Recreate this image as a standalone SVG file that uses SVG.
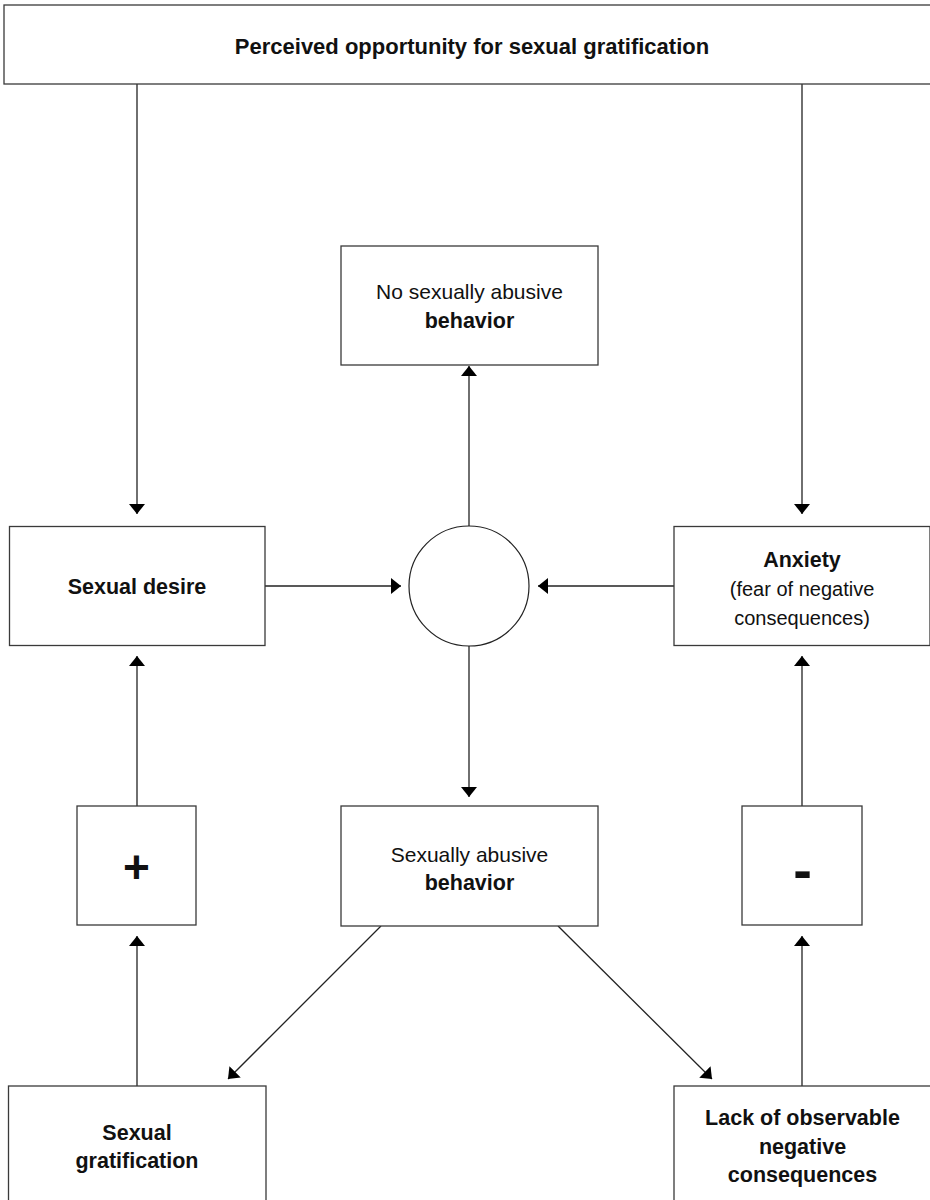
<svg xmlns="http://www.w3.org/2000/svg" width="930" height="1200" viewBox="0 0 930 1200">
<style>
.box{fill:#fff;stroke:#3a3a3a;stroke-width:1.3}
.c{fill:none;stroke:#222;stroke-width:1.3}
.t{font-family:"Liberation Sans",Arial,sans-serif;font-size:20px;fill:#111;text-anchor:middle}
.r{font-size:21px}
.b{font-weight:bold;font-size:21.5px}
.h{font-family:"Liberation Sans",Arial,sans-serif;font-weight:bold;font-size:22px;fill:#111;text-anchor:middle}
</style>
<defs>
<marker id="a" viewBox="0 0 10 16" refX="10" refY="8" markerWidth="10" markerHeight="16" markerUnits="userSpaceOnUse" orient="auto">
<path d="M0,0 L10,8 L0,16 z" fill="#000"/>
</marker>
</defs>
<rect width="930" height="1200" fill="#fff"/>
<g id="connectors">
<path class="c" d="M137,84 V514" marker-end="url(#a)"/>
<path class="c" d="M802,84 V514" marker-end="url(#a)"/>
<path class="c" d="M265,586 H401" marker-end="url(#a)"/>
<path class="c" d="M674,586 H538" marker-end="url(#a)"/>
<path class="c" d="M469,526 V366" marker-end="url(#a)"/>
<path class="c" d="M469,646 V797" marker-end="url(#a)"/>
<path class="c" d="M137,806 V656" marker-end="url(#a)"/>
<path class="c" d="M137,1086 V936" marker-end="url(#a)"/>
<path class="c" d="M802,806 V656" marker-end="url(#a)"/>
<path class="c" d="M802,1086 V936" marker-end="url(#a)"/>
<path class="c" d="M381,926 L228,1079" marker-end="url(#a)"/>
<path class="c" d="M558,926 L712,1079" marker-end="url(#a)"/>
</g>
<g id="opportunity">
<rect class="box" x="4" y="5" width="940" height="79"/>
<text class="h" x="472" y="54">Perceived opportunity for sexual gratification</text>
</g>
<g id="no-abuse">
<rect class="box" x="341" y="246" width="257" height="119"/>
<text class="t r" x="469.5" y="299">No sexually abusive</text>
<text class="t b" x="469.5" y="328">behavior</text>
</g>
<g id="desire">
<rect class="box" x="9.5" y="526.5" width="255.5" height="119"/>
<text class="t b" x="137" y="594">Sexual desire</text>
</g>
<g id="decision">
<circle cx="469" cy="586" r="60" fill="#fff" stroke="#222" stroke-width="1.2"/>
</g>
<g id="anxiety">
<rect class="box" x="674" y="526.5" width="256" height="119"/>
<text class="t b" x="802" y="567">Anxiety</text>
<text class="t" x="802" y="596">(fear of negative</text>
<text class="t" x="802" y="625">consequences)</text>
</g>
<g id="plus">
<rect class="box" x="77" y="806" width="119" height="119"/>
<text class="h" x="136.5" y="883" style="font-size:46px">+</text>
</g>
<g id="abuse">
<rect class="box" x="341" y="806" width="257" height="120"/>
<text class="t r" x="469.5" y="862">Sexually abusive</text>
<text class="t b" x="469.5" y="890">behavior</text>
</g>
<g id="minus">
<rect class="box" x="742" y="806" width="120" height="119"/>
<text class="h" x="802.5" y="889" style="font-size:56px">-</text>
</g>
<g id="gratification">
<rect class="box" x="8.5" y="1086" width="257.5" height="120"/>
<text class="t b" x="137" y="1140">Sexual</text>
<text class="t b" x="137" y="1168">gratification</text>
</g>
<g id="lack">
<rect class="box" x="674" y="1086" width="260" height="120"/>
<text class="t b" x="802.5" y="1125">Lack of observable</text>
<text class="t b" x="802.5" y="1154">negative</text>
<text class="t b" x="802.5" y="1182">consequences</text>
</g>
</svg>
